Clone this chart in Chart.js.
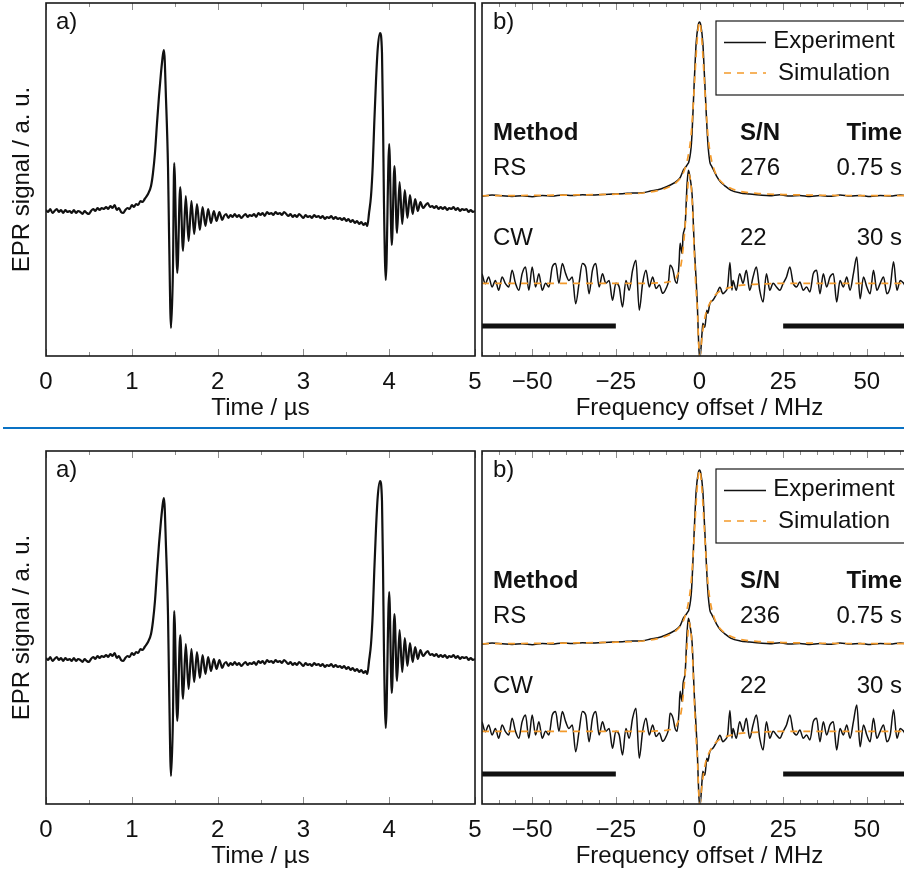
<!DOCTYPE html>
<html>
<head>
<meta charset="utf-8">
<title>EPR signal</title>
<script src="https://cdn.jsdelivr.net/npm/chart.js@4.4.1/dist/chart.umd.min.js"></script>
<style>
  html, body { margin: 0; padding: 0; background: #fff; }
  body { width: 904px; height: 884px; overflow: hidden; position: relative; }
  canvas { position: absolute; }
  #divider { position: absolute; left: 3px; top: 427px; width: 901px; height: 2px; background: #0a72c4; }
</style>
</head>
<body>
<canvas id="timeTop" width="486" height="428" style="left:0;top:0"></canvas>
<canvas id="specTop" width="452" height="428" style="left:470px;top:0"></canvas>
<div id="divider"></div>
<canvas id="timeBottom" width="486" height="428" style="left:0;top:448px"></canvas>
<canvas id="specBottom" width="452" height="428" style="left:470px;top:448px"></canvas>
<script>
// ---- panel a: time domain ----
const timeUs = [
  0.000, 0.025, 0.050, 0.075, 0.100, 0.125, 0.150, 0.175, 0.200, 0.225,
  0.250, 0.275, 0.300, 0.325, 0.350, 0.375, 0.400, 0.425, 0.450, 0.475,
  0.500, 0.525, 0.550, 0.575, 0.600, 0.625, 0.650, 0.675, 0.700, 0.725,
  0.750, 0.775, 0.800, 0.825, 0.850, 0.875, 0.900, 0.925, 0.950, 0.975,
  1.000, 1.025, 1.050, 1.075, 1.100, 1.125, 1.150,
  1.189, 1.224, 1.247, 1.270, 1.294, 1.317, 1.340, 1.364, 1.375, 1.399, 1.422, 1.434, 1.457, 1.480, 1.494,
  1.530, 1.564, 1.597, 1.629, 1.662, 1.695, 1.727, 1.760, 1.793, 1.825, 1.858, 1.890, 1.923, 1.956, 1.988, 2.021, 2.054,
  2.075, 2.100, 2.125, 2.150, 2.175, 2.200, 2.225, 2.250, 2.275, 2.300,
  2.325, 2.350, 2.375, 2.400, 2.425, 2.450, 2.475, 2.500, 2.525, 2.550,
  2.575, 2.600, 2.625, 2.650, 2.675, 2.700, 2.725, 2.750, 2.775, 2.800,
  2.825, 2.850, 2.875, 2.900, 2.925, 2.950, 2.975, 3.000, 3.025, 3.050,
  3.075, 3.100, 3.125, 3.150, 3.175, 3.200, 3.225, 3.250, 3.275, 3.300,
  3.325, 3.350, 3.375, 3.400, 3.425, 3.450, 3.475, 3.500, 3.525, 3.550,
  3.575, 3.600, 3.625, 3.650, 3.675, 3.700, 3.725,
  3.745, 3.765, 3.788, 3.808, 3.826, 3.846, 3.866, 3.893, 3.916, 3.928, 3.939, 3.960, 4.000,
  4.030, 4.061, 4.091, 4.121, 4.152, 4.182, 4.212, 4.242, 4.273, 4.303, 4.333, 4.364, 4.394,
  4.425, 4.450, 4.475, 4.500, 4.525, 4.550, 4.575, 4.600, 4.625, 4.650,
  4.675, 4.700, 4.725, 4.750, 4.775, 4.800, 4.825, 4.850, 4.875, 4.900,
  4.925, 4.950, 4.975, 5.000
];
const eprSignal = [
  0.01, -0.01, 0.02, -0.02, 0.00, 0.02, -0.01, 0.01, -0.02, 0.01,
  -0.01, 0.00, -0.02, 0.01, -0.02, 0.00, -0.01, -0.03, 0.00, -0.02,
  -0.03, 0.00, 0.02, 0.00, 0.03, 0.01, 0.03, 0.02, 0.04, 0.02,
  0.05, 0.03, 0.06, 0.01, 0.03, -0.01, -0.02, 0.01, 0.03, 0.02,
  0.06, 0.04, 0.07, 0.06, 0.10, 0.09, 0.12,
  0.17, 0.25, 0.38, 0.58, 0.88, 1.15, 1.38, 1.57, 1.61, 1.11, 0.44, -0.22, -1.17, -0.56, 0.48,
  -0.62, 0.24, -0.40, 0.15, -0.30, 0.10, -0.23, 0.07, -0.19, 0.04, -0.15, 0.02, -0.12, 0.00, -0.10, -0.01, -0.09,
  -0.05, -0.03, -0.07, -0.04, -0.06, -0.03, -0.06, -0.04, -0.07, -0.05,
  -0.03, -0.06, -0.04, -0.05, -0.03, -0.06, -0.02, -0.04, -0.02, -0.05,
  -0.01, -0.03, -0.02, -0.04, -0.01, -0.03, -0.02, -0.04, -0.01, -0.03,
  -0.05, -0.03, -0.06, -0.04, -0.06, -0.03, -0.05, -0.07, -0.04, -0.06,
  -0.05, -0.07, -0.04, -0.06, -0.05, -0.07, -0.05, -0.08, -0.06, -0.07,
  -0.05, -0.08, -0.06, -0.08, -0.07, -0.09, -0.07, -0.10, -0.08, -0.11,
  -0.09, -0.12, -0.10, -0.13, -0.11, -0.14, -0.12,
  -0.15, -0.02, 0.15, 0.45, 0.88, 1.30, 1.62, 1.78, 1.58, 0.91, 0.08, -0.69, 0.67,
  -0.34, 0.45, -0.22, 0.29, -0.13, 0.21, -0.07, 0.16, -0.03, 0.12, 0.00, 0.09, 0.03,
  0.06, 0.08, 0.04, 0.05, 0.03, 0.05, 0.02, 0.04, 0.02, 0.04,
  0.01, 0.03, 0.02, 0.04, 0.01, 0.03, 0.00, 0.02, 0.01, 0.02,
  -0.01, 0.01, -0.01, 0.00
];
const timeTicks = [0, 1, 2, 3, 4, 5];
const timeMinorTicks = [0.5, 1.5, 2.5, 3.5, 4.5];

// ---- panel b: frequency domain ----
const rsFreq = [
  -65, -62, -59, -56, -53, -50, -47, -44, -41, -38, -35, -32, -29, -26, -23, -20, -17,
  -14.6, -11.6, -8.7, -6.5, -5.7, -4.8, -4.0, -3.5, -3.2, -2.4, -1.5, -1.0, -0.4,
  0,
  0.4, 1.0, 1.5, 2.5, 3.1, 3.6, 4.2, 5.1, 6.3, 7.5, 9.3, 12.2,
  15, 18, 21, 24, 27, 30, 33, 36, 39, 42, 45, 48, 51, 54, 57, 60, 63,
  65
];
const rsExperiment = [
  -0.006, 0.000, -0.004, -0.008, -0.004, -0.009, -0.003, -0.006, 0.000, -0.003, 0.002, 0.000, 0.004, 0.006, 0.008, 0.012, 0.014,
  0.023, 0.035, 0.058, 0.085, 0.104, 0.145, 0.165, 0.180, 0.191, 0.301, 0.682, 0.879, 0.980,
  1.000,
  0.980, 0.879, 0.682, 0.301, 0.191, 0.168, 0.145, 0.110, 0.075, 0.055, 0.029, 0.012,
  0.006, 0.000, -0.004, 0.002, -0.006, -0.002, -0.008, -0.003, -0.007, 0.000, -0.006, -0.002, -0.008, -0.003, -0.006, 0.000, -0.005,
  -0.002
];
const rsSimFreq = [-65, -40, -25, -17, -12, -9, -7, -5.5, -4.5, -3.5, -2.6, -2.0, -1.4, -0.8, -0.3, 0,
  0.3, 0.8, 1.4, 2.0, 2.6, 3.5, 4.5, 5.5, 7, 9, 12, 17, 25, 40, 65];
const rsSimulation = [-0.004, 0.000, 0.005, 0.012, 0.028, 0.048, 0.072, 0.105, 0.145, 0.215, 0.33, 0.48, 0.68, 0.87, 0.98, 1.0,
  0.98, 0.87, 0.68, 0.48, 0.33, 0.21, 0.14, 0.10, 0.068, 0.042, 0.022, 0.010, 0.003, -0.002, -0.004];

const cwFreq = [
  -65, -64, -63, -62, -61, -60, -59, -58, -57, -56,
  -55, -54, -53, -52, -51, -50, -49, -48, -47, -46,
  -45, -44, -43, -42, -41, -40, -39, -38, -37, -36,
  -35, -34, -33, -32, -31, -30, -29, -28, -27, -26,
  -25, -24, -23, -22, -21, -20, -19, -18, -17, -16,
  -15, -14, -13, -12, -11, -10,
  -9.2, -8.8, -7.9, -7.3, -6.7, -6.1, -5.8, -5.2, -4.9, -4.3, -3.7, -3.3, -2.8, -2.2, -1.6, -0.7, -0.15,
  0.15, 0.75, 1.0, 1.6, 2.2, 2.5, 3.1, 4.0, 5.2, 6.1, 7.0, 7.6, 8.4, 9.1, 9.7,
  10, 11, 12, 13, 14, 15, 16, 17, 18, 19,
  20, 21, 22, 23, 24, 25, 26, 27, 28, 29,
  30, 31, 32, 33, 34, 35, 36, 37, 38, 39,
  40, 41, 42, 43, 44, 45, 46, 47, 48, 49,
  50, 51, 52, 53, 54, 55, 56, 57, 58, 59,
  60, 61, 62, 63, 64, 65
];
const cwExperiment = [
  0.056, -0.002, 0.037, -0.021, 0.017, -0.040, 0.037, -0.002, -0.021, 0.075,
  0.000, -0.040, 0.056, 0.094, -0.040, 0.094, -0.021, 0.056, -0.040, 0.000,
  -0.021, 0.094, 0.114, 0.000, 0.114, 0.056, 0.017, 0.037, -0.118, 0.000,
  0.114, 0.094, -0.060, 0.075, 0.114, -0.021, 0.056, 0.000, 0.017, -0.098,
  0.000, -0.021, -0.137, 0.017, -0.040, 0.075, 0.133, -0.156, 0.000, 0.075,
  -0.021, 0.037, -0.030, -0.010, -0.058, -0.030,
  0.020, 0.104, 0.075, 0.017, 0.000, 0.121, 0.231, 0.173, 0.277, 0.335, 0.578, 0.653, 0.607, 0.509, 0.231, -0.098, -0.387,
  -0.428, -0.289, -0.231, -0.254, -0.156, -0.173, -0.116, -0.098, -0.058, -0.023, -0.060, -0.050, -0.020, 0.120, -0.040,
  0.017, -0.040, 0.056, 0.000, 0.075, -0.040, 0.037, 0.094, -0.040, -0.108,
  0.056, -0.040, 0.000, -0.021, -0.040, 0.000, 0.037, 0.094, 0.000, -0.021,
  0.008, -0.040, -0.021, -0.050, 0.056, 0.075, -0.060, 0.056, -0.021, 0.037,
  0.056, -0.108, 0.017, -0.021, 0.037, -0.040, 0.056, 0.152, -0.089, 0.037,
  -0.021, -0.060, 0.075, -0.040, 0.000, 0.037, -0.060, -0.021, 0.125, -0.040,
  0.017, 0.000, -0.030, 0.050, -0.020, 0.030
];
const cwSimFreq = [-65, -15, -12, -10, -8, -7, -6.7, -6, -5.5, -4.9, -4.3, -3.7, -3.1, -2.6, -2.2, -1.6, -1.1,
  -0.7, -0.15, 0.15, 0.75, 1.6, 2.3, 3.1, 4.0, 5.2, 6.5, 8.2, 10, 12.1, 15, 20, 25, 65];
const cwSimulation = [0, 0, 0.003, 0.006, 0.015, 0.030, 0.045, 0.070, 0.110, 0.200, 0.330, 0.500, 0.630, 0.580, 0.480, 0.200, -0.020,
  -0.130, -0.380, -0.420, -0.310, -0.200, -0.150, -0.115, -0.085, -0.058, -0.042, -0.029, -0.020, -0.012, -0.007, -0.003, 0, 0];

const rsOffset = 0;
const cwOffset = -0.51;
const noiseBarLeft = [-65, -25];
const noiseBarRight = [25, 65];
const noiseBarLevel = -0.757;

const freqTicks = [-50, -25, 0, 25, 50];
const freqMinorTicks = [-65, -60, -55, -45, -40, -35, -30, -20, -15, -10, -5, 5, 10, 15, 20, 30, 35, 40, 45, 55, 60, 65];

const legendLabels = ['Experiment', 'Simulation'];
const tableHead = ['Method', 'S/N', 'Time'];
const methods = ['RS', 'CW'];
const snTop = ['276', '22'];
const snBottom = ['236', '22'];
const acqTimes = ['0.75 s', '30 s'];

const FONT = '"Liberation Sans", Arial, Helvetica, sans-serif';
const INK = '#111';
const ORANGE = '#f39a2b';

Chart.defaults.font.family = FONT;
Chart.defaults.font.size = 24;
Chart.defaults.color = INK;

const frameTicks = {
    id: 'frameTicks',
    afterDatasetsDraw(chart, args, opts) {
        const {ctx, chartArea} = chart;
        const {left, top, right, bottom} = chartArea;
        const xs = chart.scales.x;
        ctx.save();
        ctx.strokeStyle = '#8c8c8c';
        ctx.lineWidth = 1;
        const marks = (vals, len) => {
            vals.forEach(v => {
                const px = Math.round(xs.getPixelForValue(v)) + 0.5;
                ctx.beginPath();
                ctx.moveTo(px, top);
                ctx.lineTo(px, top + len);
                ctx.moveTo(px, bottom);
                ctx.lineTo(px, bottom - len);
                ctx.stroke();
            });
        };
        marks(opts.major, 7);
        marks(opts.minor, 4);
        ctx.strokeStyle = '#1a1a1a';
        ctx.lineWidth = 1.6;
        ctx.strokeRect(left, top, right - left, bottom - top);
        ctx.restore();
    }
};

const panelText = {
    id: 'panelText',
    afterDraw(chart, args, opts) {
        const {ctx, chartArea: {left, top}} = chart;
        ctx.save();
        ctx.textBaseline = 'middle';
        const lg = opts.legend;
        if (lg) {
            ctx.fillStyle = '#fff';
            ctx.fillRect(left + lg.x, top + lg.y, lg.w, lg.h);
            ctx.strokeStyle = '#1a1a1a';
            ctx.lineWidth = 1.2;
            ctx.strokeRect(left + lg.x, top + lg.y, lg.w, lg.h);
            lg.entries.forEach(e => {
                ctx.strokeStyle = e.color;
                ctx.lineWidth = e.width;
                ctx.setLineDash(e.dash || []);
                ctx.beginPath();
                ctx.moveTo(left + lg.lineX0, top + e.lineY);
                ctx.lineTo(left + lg.lineX1, top + e.lineY);
                ctx.stroke();
                ctx.setLineDash([]);
                ctx.fillStyle = INK;
                ctx.font = '24px ' + FONT;
                ctx.textAlign = 'center';
                ctx.fillText(e.text, left + lg.textX, top + e.textY);
            });
        }
        opts.items.forEach(it => {
            ctx.font = (it.bold ? 'bold ' : '') + '24px ' + FONT;
            ctx.fillStyle = INK;
            ctx.textAlign = it.align || 'left';
            ctx.fillText(it.text, left + it.dx, top + it.dy);
        });
        ctx.restore();
    }
};

function toPoints(xs, ys, offset) {
    return xs.map((x, i) => ({x: x, y: ys[i] + (offset || 0)}));
}

function buildTimePanel(id) {
    return new Chart(document.getElementById(id), {
        type: 'line',
        data: {
            datasets: [{
                data: toPoints(timeUs, eprSignal),
                borderColor: INK,
                borderWidth: 2.2,
                pointRadius: 0,
                cubicInterpolationMode: 'monotone',
                borderJoinStyle: 'round'
            }]
        },
        options: {
            responsive: false,
            animation: false,
            events: [],
            layout: {padding: {top: 3, right: 11, left: 0, bottom: 0}},
            plugins: {
                legend: {display: false},
                tooltip: {enabled: false},
                frameTicks: {major: timeTicks, minor: timeMinorTicks},
                panelText: {items: [{text: 'a)', dx: 10, dy: 19.5}]}
            },
            scales: {
                x: {
                    type: 'linear', min: 0, max: 5,
                    grid: {display: false},
                    border: {display: false},
                    ticks: {padding: 4, color: INK},
                    afterBuildTicks: s => { s.ticks = timeTicks.map(v => ({value: v})); },
                    title: {display: true, text: 'Time / µs', color: INK, padding: {top: 0, bottom: 5}},
                    afterFit: s => { s.height = 72; }
                },
                y: {
                    min: -1.45, max: 2.08,
                    grid: {display: false},
                    border: {display: false},
                    ticks: {display: false},
                    title: {display: true, text: 'EPR signal / a. u.', color: INK, padding: {top: 8, bottom: 0}},
                    afterFit: s => { s.width = 46; }
                }
            }
        },
        plugins: [frameTicks, panelText]
    });
}

function buildSpectrumPanel(id, snValues) {
    const items = [
        {text: 'b)', dx: 11, dy: 19.5},
        {text: tableHead[0], dx: 11, dy: 130.5, bold: true},
        {text: tableHead[1], dx: 258, dy: 130.5, bold: true},
        {text: tableHead[2], dx: 420, dy: 130.5, bold: true, align: 'right'}
    ];
    const rowY = [165.5, 235.5];
    methods.forEach((m, i) => {
        items.push({text: m, dx: 11, dy: rowY[i]});
        items.push({text: snValues[i], dx: 258, dy: rowY[i]});
        items.push({text: acqTimes[i], dx: 420, dy: rowY[i], align: 'right'});
    });

    const expStyle = {borderColor: INK, borderWidth: 1.5, pointRadius: 0, cubicInterpolationMode: 'monotone', order: 1};
    const simStyle = {borderColor: ORANGE, borderWidth: 1.7, borderDash: [7, 6], pointRadius: 0, cubicInterpolationMode: 'monotone', order: 0};
    const barStyle = {borderColor: INK, borderWidth: 5, pointRadius: 0, borderCapStyle: 'butt', order: 2};

    return new Chart(document.getElementById(id), {
        type: 'line',
        data: {
            datasets: [
                Object.assign({label: legendLabels[1], data: toPoints(rsSimFreq, rsSimulation, rsOffset)}, simStyle),
                Object.assign({label: legendLabels[1], data: toPoints(cwSimFreq, cwSimulation, cwOffset)}, simStyle),
                Object.assign({label: legendLabels[0], data: toPoints(rsFreq, rsExperiment, rsOffset)}, expStyle),
                Object.assign({label: legendLabels[0], data: toPoints(cwFreq, cwExperiment, cwOffset)}, expStyle),
                Object.assign({data: noiseBarLeft.map(f => ({x: f, y: noiseBarLevel}))}, barStyle),
                Object.assign({data: noiseBarRight.map(f => ({x: f, y: noiseBarLevel}))}, barStyle)
            ]
        },
        options: {
            responsive: false,
            animation: false,
            events: [],
            layout: {padding: {top: 3, right: 5, left: 12, bottom: 0}},
            plugins: {
                legend: {display: false},
                tooltip: {enabled: false},
                frameTicks: {major: freqTicks, minor: freqMinorTicks},
                panelText: {
                    items: items,
                    legend: {
                        x: 234, y: 18, w: 260, h: 74,
                        lineX0: 242, lineX1: 284, textX: 352,
                        entries: [
                            {text: legendLabels[0], color: INK, width: 1.5, lineY: 39.5, textY: 38.5},
                            {text: legendLabels[1], color: ORANGE, width: 1.7, dash: [7, 6], lineY: 70, textY: 70}
                        ]
                    }
                }
            },
            scales: {
                x: {
                    type: 'linear', min: -65, max: 65,
                    grid: {display: false},
                    border: {display: false},
                    ticks: {padding: 4, color: INK, callback: v => String(v).replace('-', '\u2212')},
                    afterBuildTicks: s => { s.ticks = freqTicks.map(v => ({value: v})); },
                    title: {display: true, text: 'Frequency offset / MHz', color: INK, padding: {top: 0, bottom: 5}},
                    afterFit: s => { s.height = 72; }
                },
                y: {
                    display: false,
                    min: -0.93, max: 1.11
                }
            }
        },
        plugins: [frameTicks, panelText]
    });
}

buildTimePanel('timeTop');
buildSpectrumPanel('specTop', snTop);
buildTimePanel('timeBottom');
buildSpectrumPanel('specBottom', snBottom);
</script>
</body>
</html>
